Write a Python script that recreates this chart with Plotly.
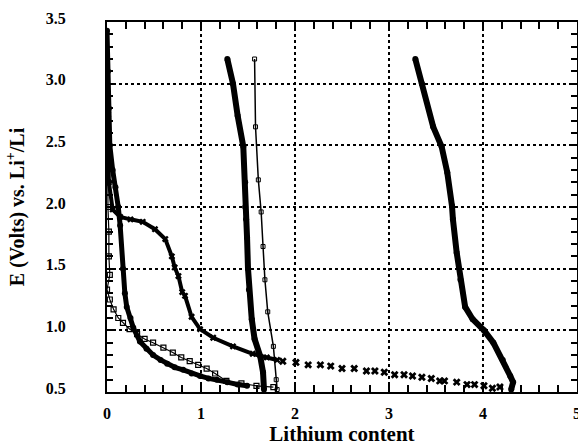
import plotly.graph_objects as go

# Curve B: thick filled discharge curve near the left axis
xB = [0.00, 0.01, 0.02, 0.03, 0.06, 0.09, 0.12, 0.14, 0.17, 0.19, 0.21, 0.25, 0.28, 0.35, 0.42,
      0.49, 0.57, 0.64, 0.72, 0.81, 0.90, 0.99, 1.08, 1.17, 1.28, 1.39, 1.49]
yB = [3.43, 3.10, 2.80, 2.50, 2.30, 2.16, 2.00, 1.85, 1.50, 1.30, 1.19, 1.10, 1.02, 0.91, 0.85,
      0.80, 0.76, 0.73, 0.70, 0.68, 0.65, 0.63, 0.61, 0.60, 0.58, 0.56, 0.55]

# Curve C: open squares discharge curve
xC = [0.00, 0.00, 0.01, 0.01, 0.02, 0.02, 0.03, 0.00, 0.03, 0.07, 0.12, 0.17, 0.24, 0.32, 0.40,
      0.49, 0.60, 0.70, 0.79, 0.88, 0.97, 1.06, 1.15, 1.27, 1.43, 1.59, 1.77]
yC = [2.65, 2.40, 2.20, 2.00, 1.80, 1.60, 1.45, 1.33, 1.25, 1.17, 1.10, 1.06, 1.01, 0.97, 0.93,
      0.90, 0.86, 0.82, 0.78, 0.75, 0.72, 0.69, 0.65, 0.59, 0.57, 0.55, 0.54]

# Curve X: asterisk discharge curve, dense part
xX = [0.01, 0.01, 0.02, 0.06, 0.14, 0.25, 0.38, 0.51, 0.62, 0.69, 0.72, 0.76, 0.80, 0.83, 0.90,
      0.99, 1.13, 1.34, 1.55, 1.70, 1.81]
yX = [2.75, 2.50, 2.20, 1.98, 1.92, 1.90, 1.88, 1.82, 1.74, 1.60, 1.51, 1.44, 1.31, 1.28, 1.11,
      1.01, 0.94, 0.87, 0.81, 0.78, 0.76]

# Curve X: asterisk discharge curve, sparse tail
xXs = [1.87, 2.01, 2.14, 2.27, 2.38, 2.50, 2.63, 2.76, 2.85, 2.95, 3.06, 3.16, 3.25, 3.35, 3.45,
       3.54, 3.59, 3.72, 3.83, 3.91, 4.01, 4.10, 4.18]
yXs = [0.75, 0.74, 0.72, 0.72, 0.71, 0.69, 0.69, 0.67, 0.67, 0.66, 0.64, 0.64, 0.63, 0.62, 0.61,
       0.59, 0.59, 0.58, 0.56, 0.56, 0.55, 0.53, 0.54]

# Curve D: thick charge curve in the middle
xD = [1.67, 1.66, 1.63, 1.57, 1.54, 1.51, 1.50, 1.49, 1.48, 1.47, 1.47, 1.45, 1.39, 1.34, 1.28]
yD = [0.52, 0.66, 0.79, 0.93, 1.09, 1.33, 1.50, 1.75, 1.90, 2.00, 2.20, 2.49, 2.74, 3.00, 3.20]

# Curve E: thin small-square charge curve
xE = [1.81, 1.80, 1.77, 1.71, 1.68, 1.66, 1.64, 1.61, 1.58, 1.57]
yE = [0.52, 0.60, 0.87, 1.15, 1.41, 1.68, 1.96, 2.22, 2.65, 3.20]

# Curve F: thick charge curve on the right
xF = [4.30, 4.32, 4.29, 4.21, 4.11, 4.01, 3.89, 3.81, 3.76, 3.72, 3.68, 3.67, 3.62, 3.56, 3.47,
      3.35, 3.28]
yF = [0.52, 0.58, 0.63, 0.76, 0.90, 1.00, 1.09, 1.19, 1.41, 1.63, 1.90, 2.01, 2.28, 2.49, 2.65,
      3.00, 3.20]

xticks = [0, 1, 2, 3, 4, 5]
yticks = [0.5, 1.0, 1.5, 2.0, 2.5, 3.0, 3.5]
ytick_text = ["0.5", "1.0", "1.5", "2.0", "2.5", "3.0", "3.5"]

fig = go.Figure()
thick = dict(mode="lines+markers", showlegend=False)
fig.add_trace(go.Scatter(x=xB, y=yB, line=dict(color="black", width=5),
                         marker=dict(symbol="circle", size=6, color="black"), **thick))
fig.add_trace(go.Scatter(x=xC, y=yC, line=dict(color="black", width=1.2),
                         marker=dict(symbol="square-open", size=5, color="black",
                                     line=dict(width=1.2)), **thick))
fig.add_trace(go.Scatter(x=xX, y=yX, line=dict(color="black", width=4),
                         marker=dict(symbol="x", size=6, color="black"), **thick))
fig.add_trace(go.Scatter(x=xXs, y=yXs, mode="markers", showlegend=False,
                         marker=dict(symbol="x", size=7, color="black")))
fig.add_trace(go.Scatter(x=xD, y=yD, line=dict(color="black", width=6),
                         marker=dict(symbol="circle", size=6, color="black"), **thick))
fig.add_trace(go.Scatter(x=xE, y=yE, line=dict(color="black", width=1.5),
                         marker=dict(symbol="square-open", size=4, color="black",
                                     line=dict(width=1)), **thick))
fig.add_trace(go.Scatter(x=xF, y=yF, line=dict(color="black", width=6),
                         marker=dict(symbol="circle", size=6, color="black"), **thick))

serif = "Liberation Serif"
axis_common = dict(
    showline=True, linecolor="black", linewidth=2, mirror="allticks",
    ticks="inside", ticklen=8, tickwidth=1.5, tickcolor="black",
    showgrid=True, gridcolor="black", griddash="dot", gridwidth=1.5,
    zeroline=False, automargin=False,
    tickfont=dict(family=serif, size=16, color="black", weight="bold"),
)
fig.update_xaxes(
    range=[0, 5], tickmode="array", tickvals=xticks, ticktext=[str(t) for t in xticks],
    minor=dict(ticks="inside", ticklen=7, tickwidth=1.5, tickcolor="black", dtick=0.2,
               tick0=0, showgrid=False),
    ticklabelstandoff=6, ticklabeloverflow="allow",
    title=dict(text="Lithium content", standoff=16,
               font=dict(family=serif, size=21, color="black", weight="bold")),
    **axis_common,
)
fig.update_yaxes(
    range=[0.5, 3.5], tickmode="array", tickvals=yticks, ticktext=ytick_text,
    minor=dict(ticks="inside", ticklen=6, tickwidth=1.5, tickcolor="black", dtick=0.1,
               tick0=0.5, showgrid=False),
    ticklabelstandoff=36, ticklabelshift=-4,
    title=dict(text="E (Volts) vs. Li<sup>+</sup>/Li", standoff=16,
               font=dict(family=serif, size=20, color="black", weight="bold")),
    **axis_common,
)
fig.update_layout(
    width=578, height=446,
    margin=dict(l=107, r=1, t=22, b=54),
    paper_bgcolor="white", plot_bgcolor="white",
)
fig.write_html("out.html")
